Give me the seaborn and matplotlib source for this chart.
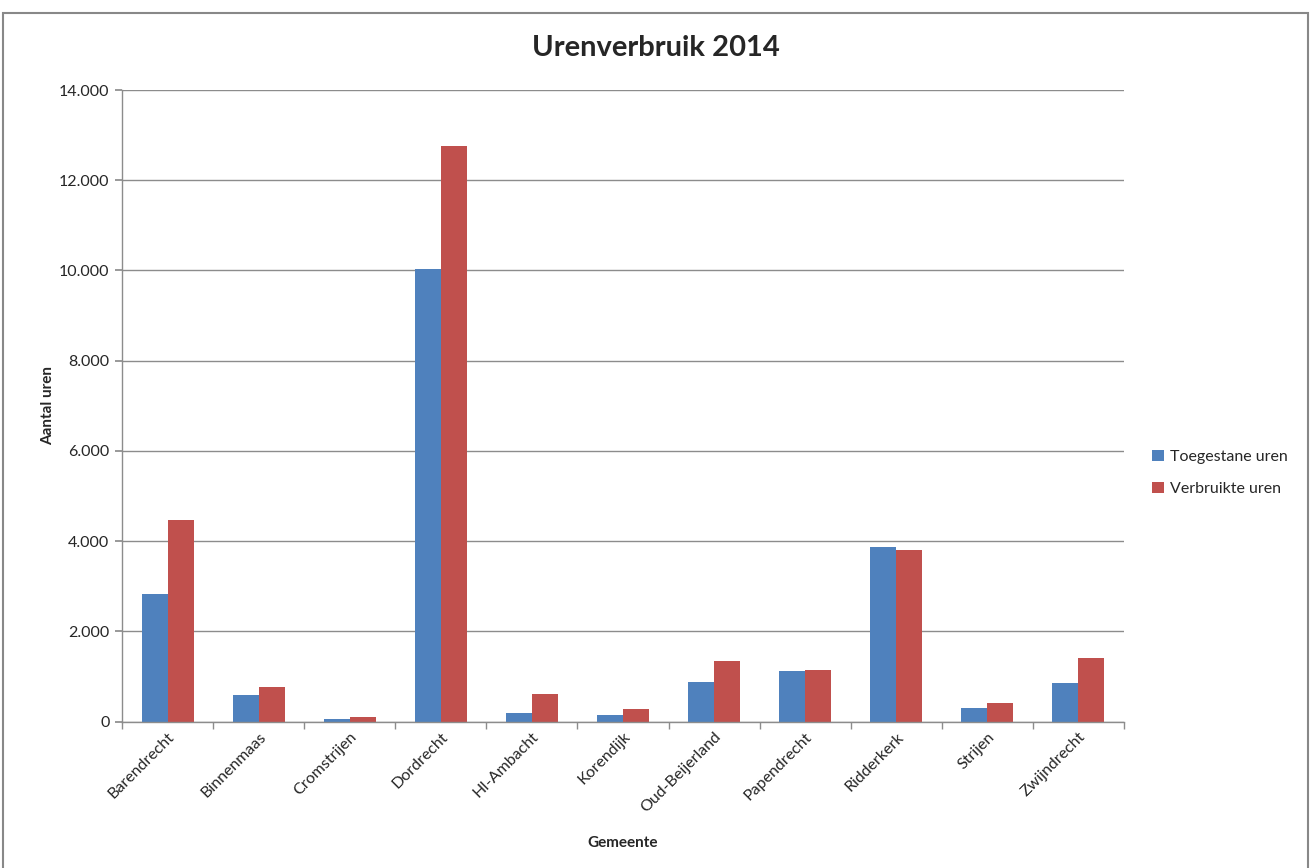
import matplotlib
matplotlib.use("Agg")
import matplotlib.pyplot as plt
import matplotlib.patches as mpatches
from matplotlib.ticker import FuncFormatter, FixedLocator, NullFormatter
import seaborn as sns
import pandas as pd

gemeenten = ["Barendrecht", "Binnenmaas", "Cromstrijen", "Dordrecht", "HI-Ambacht",
             "Korendijk", "Oud-Beijerland", "Papendrecht", "Ridderkerk", "Strijen", "Zwijndrecht"]
toegestaan = [2824, 580, 60, 10023, 190, 155, 886, 1114, 3865, 295, 864]
verbruikt = [4460, 771, 104, 12763, 611, 272, 1342, 1136, 3799, 405, 1402]
series = ["Toegestane uren", "Verbruikte uren"]
colors = ["#4F81BD", "#C0504D"]

df = pd.DataFrame({
    "Gemeente": gemeenten * 2,
    "Uren": toegestaan + verbruikt,
    "Serie": [series[0]] * len(gemeenten) + [series[1]] * len(gemeenten),
})

sns.set_theme(style="white")
plt.rcParams["font.family"] = ["Lato", "DejaVu Sans"]

W, H = 1311, 868
fig = plt.figure(figsize=(W / 100, H / 100), dpi=100)
ax = fig.add_axes([122 / W, 1 - 721.5 / H, (1124 - 122) / W, (721.5 - 90) / H])

sns.barplot(data=df, x="Gemeente", y="Uren", hue="Serie", palette=colors,
            width=0.57, saturation=1, ax=ax, legend=True, edgecolor="none")

ax.set_ylim(0, 14000)
ax.set_xlim(-0.5, len(gemeenten) - 0.5)
ax.yaxis.set_major_locator(FixedLocator(range(0, 14001, 2000)))
ax.yaxis.set_major_formatter(FuncFormatter(lambda v, p: f"{int(v):,}".replace(",", ".")))
ax.grid(axis="y", color="#8c8c8c", linewidth=1.0)
ax.set_axisbelow(True)
for s in ["top", "right"]:
    ax.spines[s].set_visible(False)
for s in ["left", "bottom"]:
    ax.spines[s].set_color("#8c8c8c")
    ax.spines[s].set_linewidth(1.0)

ax.tick_params(axis="y", which="major", direction="out", length=5, color="#8c8c8c",
               labelsize=11.5, pad=4, left=True)
ax.tick_params(axis="x", which="major", length=0, labelsize=11.5, pad=6)
ax.set_xticks([i - 0.5 for i in range(len(gemeenten) + 1)], minor=True)
ax.xaxis.set_minor_formatter(NullFormatter())
ax.tick_params(axis="x", which="minor", direction="out", length=5, color="#8c8c8c", bottom=True)
plt.setp(ax.get_xticklabels(), rotation=45, ha="right", rotation_mode="anchor")

ax.set_xlabel("Gemeente", fontsize=11, fontweight="bold", labelpad=15)
ax.set_ylabel("Aantal uren", fontsize=11, fontweight="bold", labelpad=3)
fig.text(0.5, 1 - 48 / H, "Urenverbruik 2014", ha="center", va="center",
         fontsize=21, fontweight="bold")

handles, labels = ax.get_legend_handles_labels()
ax.legend(handles, labels, loc="center left", bbox_to_anchor=(1138 / W, 1 - 473 / H),
          bbox_transform=fig.transFigure, frameon=False, fontsize=11.5,
          handlelength=0.7, handleheight=0.7, labelspacing=1.1, handletextpad=0.4)

border = mpatches.Rectangle((3 / W, -0.05), (1308 - 3) / W, 1.05 - 13 / H + 0.0,
                            transform=fig.transFigure, fill=False,
                            edgecolor="#888888", linewidth=1.5, clip_on=False)
fig.patches.append(border)

fig.savefig("out.png", dpi=100)
